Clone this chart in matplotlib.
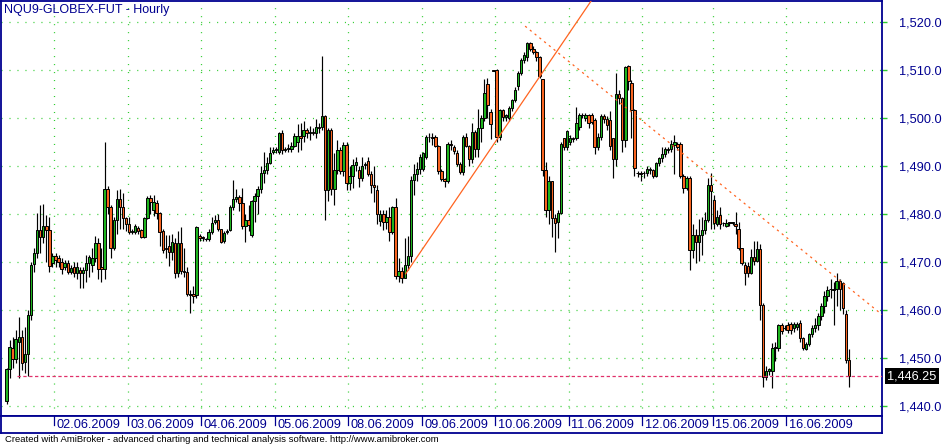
import numpy as np
import matplotlib
matplotlib.use("Agg")
import matplotlib.pyplot as plt
import matplotlib.transforms as mtransforms

plt.rcParams['font.family'] = ['Liberation Sans', 'DejaVu Sans']
plt.rcParams['lines.scale_dashes'] = False

# hourly bars, one row per trading day
day_labels = ["01.06.2009", "02.06.2009", "03.06.2009", "04.06.2009", "05.06.2009", "08.06.2009",
              "09.06.2009", "10.06.2009", "11.06.2009", "12.06.2009", "15.06.2009", "16.06.2009"]
bars_per_day = [16, 24, 24, 24, 24, 24, 24, 24, 24, 23, 24, 21]

opens = [
    1441.1, 1447.7, 1452.1, 1449.8, 1453.5, 1454.5, 1449.2, 1450.9, 1459.0, 1469.6, 1471.9, 1476.8, 1475.2, 1477.5, 1476.8, 1469.8,
    1471.3, 1470.8, 1470.1, 1469.1, 1469.8, 1468.0, 1469.1, 1467.8, 1468.3, 1467.7, 1468.4, 1469.8, 1469.5, 1471.0, 1474.0, 1469.0, 1468.7, 1485.3, 1481.6, 1472.9, 1478.9, 1483.2, 1481.6, 1479.2,
    1478.0, 1476.4, 1476.4, 1477.2, 1476.8, 1475.2, 1479.2, 1483.5, 1481.0, 1482.3, 1480.2, 1476.6, 1472.9, 1473.5, 1472.2, 1474.1, 1467.7, 1474.1, 1468.2, 1468.0, 1463.5, 1463.3, 1463.2, 1475.5,
    1475.2, 1474.8, 1474.8, 1476.3, 1478.5, 1478.9, 1476.9, 1474.5, 1476.4, 1476.8, 1481.6, 1483.2, 1483.6, 1482.3, 1477.6, 1478.9, 1475.7, 1482.7, 1483.8, 1485.2, 1488.6, 1489.3, 1490.7, 1493.0,
    1493.3, 1493.0, 1497.0, 1493.3, 1493.6, 1493.6, 1494.3, 1495.0, 1496.4, 1496.4, 1497.5, 1496.9, 1497.2, 1497.0, 1498.2, 1498.2, 1500.4, 1485.0, 1497.5, 1485.3, 1489.2, 1493.5, 1489.0, 1494.5,
    1486.6, 1488.0, 1490.3, 1489.3, 1487.6, 1490.3, 1491.1, 1488.5, 1486.2, 1485.0, 1478.7, 1480.1, 1478.5, 1479.4, 1476.4, 1481.6, 1467.2, 1468.1, 1466.7, 1469.5, 1471.4, 1487.1, 1488.4, 1489.4,
    1489.4, 1492.0, 1496.1, 1496.2, 1496.1, 1494.3, 1489.0, 1487.4, 1486.9, 1494.7, 1494.0, 1492.8, 1490.4, 1488.8, 1496.1, 1494.3, 1491.5, 1497.2, 1493.6, 1497.9, 1500.0, 1507.1, 1501.4, 1510.0,
    1510.0, 1496.1, 1501.8, 1500.2, 1500.0, 1502.1, 1503.9, 1506.7, 1509.5, 1512.2, 1512.7, 1515.7, 1514.5, 1513.8, 1512.7, 1508.1, 1489.3, 1480.9, 1486.9, 1479.2, 1478.5, 1480.2, 1495.8, 1494.0,
    1495.0, 1495.8, 1495.8, 1498.2, 1500.7, 1500.0, 1500.7, 1500.7, 1499.6, 1494.0, 1496.1, 1500.4, 1499.9, 1499.6, 1495.8, 1491.5, 1505.1, 1504.2, 1495.4, 1510.9, 1507.4, 1501.8, 1488.6, 1488.6,
    1488.6, 1488.6, 1489.2, 1489.3, 1488.0, 1490.7, 1491.7, 1492.6, 1493.5, 1493.6, 1494.4, 1494.7, 1494.7, 1487.9, 1485.5, 1487.6, 1472.6, 1475.7, 1474.3, 1475.7, 1476.8, 1478.9, 1486.2,
    1483.0, 1478.0, 1479.8, 1478.1, 1477.6, 1478.1, 1478.2, 1478.0, 1477.0, 1472.9, 1469.5, 1469.2, 1467.7, 1471.1, 1470.3, 1472.7, 1461.1, 1446.2, 1447.4, 1447.4, 1452.1, 1452.1, 1456.9, 1456.4,
    1457.0, 1457.1, 1456.3, 1456.5, 1457.3, 1454.3, 1452.0, 1453.0, 1455.0, 1456.3, 1457.0, 1458.8, 1460.9, 1463.0, 1464.4, 1464.3, 1464.4, 1466.2, 1465.6, 1459.3, 1449.6,
]
highs = [
    1448.0, 1453.8, 1454.5, 1456.0, 1458.7, 1456.0, 1456.5, 1460.0, 1470.0, 1473.0, 1480.2, 1482.0, 1482.2, 1479.9, 1479.5, 1472.0,
    1472.0, 1471.5, 1471.0, 1470.5, 1470.5, 1469.5, 1470.0, 1470.0, 1469.0, 1469.0, 1471.6, 1471.6, 1473.0, 1475.4, 1475.0, 1473.0, 1495.0, 1486.0, 1482.0, 1479.5, 1485.0, 1485.2, 1484.5, 1479.5,
    1479.5, 1477.0, 1478.0, 1477.5, 1477.0, 1479.5, 1483.8, 1484.0, 1484.0, 1483.0, 1480.5, 1477.0, 1475.6, 1475.6, 1476.0, 1475.0, 1476.6, 1477.3, 1473.0, 1469.0, 1464.3, 1465.0, 1477.5, 1476.0,
    1475.5, 1475.0, 1477.0, 1479.5, 1479.8, 1480.0, 1477.0, 1476.5, 1477.0, 1482.0, 1487.1, 1485.2, 1484.0, 1485.5, 1480.0, 1482.0, 1483.0, 1484.5, 1486.0, 1490.0, 1493.0, 1492.0, 1494.0, 1494.0,
    1494.0, 1497.2, 1497.5, 1494.0, 1494.6, 1495.0, 1497.0, 1498.9, 1499.0, 1499.5, 1498.0, 1498.5, 1498.0, 1499.8, 1499.0, 1512.9, 1500.6, 1498.0, 1498.0, 1492.8, 1495.5, 1494.0, 1495.0, 1495.0,
    1490.0, 1491.5, 1492.0, 1490.0, 1492.0, 1491.0, 1492.0, 1489.0, 1490.0, 1486.2, 1481.0, 1481.0, 1481.0, 1481.5, 1481.7, 1483.5, 1471.0, 1469.0, 1475.0, 1475.5, 1488.0, 1490.5, 1491.0, 1492.5,
    1493.0, 1496.5, 1497.0, 1497.0, 1496.5, 1494.5, 1489.5, 1487.5, 1495.0, 1495.5, 1494.5, 1493.5, 1491.0, 1496.5, 1497.0, 1494.5, 1499.0, 1497.5, 1502.0, 1500.7, 1508.1, 1508.5, 1502.0, 1510.1,
    1510.2, 1502.0, 1502.0, 1501.0, 1502.5, 1504.0, 1506.5, 1509.8, 1512.5, 1513.9, 1516.0, 1516.0, 1515.0, 1514.0, 1513.0, 1508.1, 1491.0, 1488.0, 1487.0, 1480.0, 1481.0, 1495.0, 1496.0, 1497.5,
    1496.5, 1496.2, 1502.3, 1501.2, 1501.2, 1501.2, 1501.0, 1501.2, 1500.0, 1497.0, 1501.0, 1501.0, 1500.5, 1501.5, 1496.0, 1509.5, 1506.0, 1504.5, 1511.0, 1511.2, 1508.0, 1502.0, 1489.0, 1489.0,
    1489.0, 1490.0, 1489.8, 1489.5, 1491.0, 1492.0, 1494.0, 1494.0, 1494.0, 1495.5, 1496.6, 1495.0, 1495.0, 1488.5, 1488.0, 1488.0, 1478.0, 1477.0, 1479.0, 1479.5, 1480.5, 1487.5, 1488.6,
    1484.0, 1481.0, 1481.5, 1478.5, 1479.0, 1478.5, 1478.5, 1480.5, 1478.5, 1473.0, 1470.0, 1470.0, 1472.8, 1474.5, 1474.5, 1473.8, 1461.5, 1448.5, 1448.0, 1453.2, 1453.5, 1457.2, 1457.3, 1457.0,
    1457.5, 1457.5, 1457.5, 1457.5, 1458.0, 1454.5, 1453.3, 1455.3, 1457.0, 1458.5, 1459.5, 1461.5, 1464.0, 1465.0, 1466.5, 1466.0, 1467.7, 1466.5, 1466.0, 1460.0, 1452.0,
]
lows = [
    1440.5, 1445.9, 1448.0, 1449.0, 1446.0, 1447.6, 1447.0, 1446.3, 1458.0, 1468.0, 1471.0, 1472.0, 1474.0, 1470.0, 1468.0, 1469.0,
    1469.0, 1469.0, 1467.5, 1468.5, 1467.5, 1467.5, 1467.0, 1466.6, 1464.6, 1464.6, 1466.0, 1467.0, 1468.0, 1470.0, 1466.5, 1466.0, 1466.5, 1480.0, 1471.0, 1472.5, 1476.0, 1477.0, 1477.0, 1476.5,
    1476.0, 1476.0, 1476.0, 1476.0, 1475.0, 1475.0, 1479.0, 1480.0, 1479.6, 1479.0, 1473.5, 1472.0, 1470.9, 1469.3, 1470.5, 1466.8, 1467.0, 1467.5, 1467.0, 1463.0, 1459.4, 1461.5, 1462.5, 1474.5,
    1474.5, 1474.5, 1474.5, 1476.0, 1478.0, 1476.5, 1474.0, 1474.0, 1476.0, 1476.5, 1481.0, 1482.5, 1480.6, 1477.0, 1474.2, 1476.5, 1475.2, 1478.5, 1480.0, 1484.5, 1486.5, 1488.5, 1490.5, 1492.5,
    1492.8, 1492.5, 1492.5, 1493.0, 1493.0, 1493.0, 1494.0, 1493.0, 1493.5, 1495.0, 1496.0, 1495.5, 1496.5, 1496.0, 1497.0, 1497.5, 1478.8, 1482.7, 1484.0, 1482.0, 1488.5, 1488.5, 1488.0, 1485.0,
    1485.0, 1485.5, 1489.0, 1485.6, 1487.0, 1489.5, 1488.0, 1484.5, 1482.6, 1478.0, 1477.5, 1476.7, 1477.0, 1474.4, 1476.0, 1466.5, 1466.0, 1465.6, 1467.6, 1468.5, 1470.0, 1484.0, 1487.0, 1488.5,
    1489.0, 1491.5, 1495.0, 1494.5, 1494.0, 1488.5, 1487.0, 1485.7, 1486.5, 1493.5, 1492.5, 1490.0, 1488.5, 1488.2, 1494.0, 1490.0, 1490.7, 1492.0, 1492.0, 1495.0, 1499.5, 1500.0, 1495.7, 1509.8,
    1495.0, 1495.5, 1499.5, 1499.5, 1499.5, 1501.5, 1503.5, 1506.0, 1509.0, 1511.5, 1512.0, 1514.0, 1513.5, 1512.0, 1508.5, 1488.0, 1479.5, 1478.0, 1475.2, 1472.2, 1475.0, 1480.0, 1493.5, 1493.5,
    1494.5, 1495.0, 1495.5, 1497.5, 1500.0, 1499.5, 1498.0, 1498.8, 1492.5, 1493.5, 1495.5, 1499.0, 1497.5, 1493.5, 1487.6, 1490.0, 1503.0, 1493.0, 1494.0, 1506.0, 1496.0, 1488.0, 1487.8, 1487.0,
    1487.6, 1488.0, 1488.5, 1487.5, 1487.7, 1490.0, 1491.0, 1492.0, 1492.8, 1493.0, 1488.3, 1493.5, 1487.5, 1484.5, 1485.0, 1468.4, 1471.0, 1469.8, 1470.3, 1471.5, 1476.0, 1478.5, 1477.0,
    1477.0, 1477.5, 1477.0, 1477.5, 1477.3, 1477.5, 1477.8, 1476.0, 1472.5, 1469.5, 1465.2, 1466.9, 1467.5, 1469.5, 1470.0, 1457.9, 1444.0, 1445.5, 1446.5, 1443.9, 1449.5, 1451.5, 1455.0, 1455.8,
    1455.3, 1455.0, 1455.5, 1456.0, 1453.5, 1451.8, 1451.8, 1452.5, 1454.5, 1455.5, 1456.0, 1458.0, 1459.5, 1462.0, 1462.5, 1456.9, 1461.0, 1460.0, 1459.3, 1449.0, 1444.1,
]
closes = [
    1447.7, 1452.3, 1449.8, 1454.0, 1454.5, 1449.0, 1450.9, 1459.0, 1469.4, 1471.9, 1476.8, 1475.2, 1477.5, 1476.8, 1469.3, 1471.3,
    1470.5, 1470.1, 1468.7, 1469.8, 1468.0, 1468.9, 1467.8, 1469.0, 1467.7, 1468.4, 1469.8, 1471.2, 1471.0, 1474.0, 1468.7, 1468.7, 1485.3, 1481.6, 1472.9, 1478.9, 1483.2, 1481.6, 1479.2, 1478.0,
    1476.4, 1476.5, 1477.5, 1476.6, 1475.2, 1479.2, 1483.5, 1482.6, 1482.6, 1480.2, 1476.4, 1472.6, 1472.8, 1472.2, 1474.3, 1467.7, 1474.1, 1468.2, 1468.0, 1463.5, 1463.2, 1463.0, 1477.3, 1475.0,
    1475.0, 1474.9, 1476.3, 1478.2, 1478.9, 1476.9, 1474.3, 1476.2, 1476.6, 1481.6, 1483.2, 1483.6, 1482.3, 1477.6, 1478.9, 1477.8, 1482.7, 1483.8, 1485.2, 1488.6, 1489.3, 1490.7, 1492.8, 1493.4,
    1493.6, 1497.0, 1493.3, 1493.6, 1493.8, 1494.3, 1496.4, 1496.4, 1496.0, 1497.5, 1496.9, 1497.2, 1497.0, 1498.2, 1498.0, 1500.4, 1485.0, 1497.5, 1485.3, 1489.2, 1493.5, 1489.0, 1494.5, 1486.6,
    1488.0, 1490.3, 1491.0, 1487.6, 1490.1, 1490.4, 1488.5, 1486.2, 1485.7, 1480.1, 1480.1, 1478.5, 1479.4, 1476.4, 1481.6, 1467.2, 1468.1, 1466.7, 1469.5, 1471.4, 1487.1, 1488.4, 1489.4, 1492.0,
    1492.8, 1496.1, 1496.2, 1495.8, 1494.3, 1489.0, 1487.4, 1487.0, 1494.7, 1494.4, 1493.1, 1490.4, 1488.8, 1496.1, 1494.3, 1491.5, 1497.2, 1493.6, 1497.9, 1500.0, 1505.3, 1502.8, 1498.9, 1509.9,
    1496.1, 1501.8, 1500.2, 1500.6, 1502.1, 1503.9, 1506.0, 1509.5, 1512.2, 1513.1, 1515.7, 1514.5, 1513.8, 1512.7, 1508.8, 1489.3, 1480.9, 1486.9, 1479.2, 1478.2, 1480.2, 1494.7, 1494.0, 1497.3,
    1495.8, 1495.6, 1499.1, 1500.7, 1500.6, 1500.7, 1499.0, 1499.3, 1494.0, 1496.1, 1500.4, 1499.9, 1498.6, 1494.3, 1491.5, 1505.1, 1504.2, 1495.4, 1510.7, 1507.8, 1501.8, 1489.7, 1488.6, 1488.5,
    1488.6, 1489.5, 1489.5, 1488.0, 1490.7, 1491.7, 1492.6, 1493.6, 1493.6, 1494.7, 1495.0, 1494.0, 1487.9, 1485.5, 1487.6, 1472.6, 1475.7, 1474.3, 1475.7, 1476.8, 1478.9, 1486.2, 1484.8,
    1478.2, 1479.5, 1478.0, 1478.2, 1478.1, 1478.3, 1478.3, 1477.5, 1472.9, 1469.8, 1467.8, 1467.8, 1471.2, 1470.3, 1472.7, 1461.1, 1446.2, 1447.4, 1447.8, 1452.1, 1452.4, 1456.9, 1455.7, 1456.4,
    1455.8, 1455.8, 1457.1, 1457.2, 1454.3, 1452.1, 1453.0, 1455.0, 1456.3, 1457.0, 1458.8, 1460.9, 1463.0, 1464.3, 1464.4, 1464.4, 1466.2, 1464.5, 1460.5, 1449.6, 1446.25,
]

# drawn study lines, anchors as (bar index, price)
up_line_bars = [130.3, 191.0]
up_line_prices = [1467.6, 1524.6]
down_line_bars = [169.3, 285.8]
down_line_prices = [1519.2, 1459.1]
last_price = 1446.25
last_line_start = 3.3

price_ticks = [1440, 1450, 1460, 1470, 1480, 1490, 1500, 1510, 1520]

NAVY = "#000090"
GRID = "#2ECC2E"
UP = "#1EB41E"
DOWN = "#F86420"
TREND = "#FF6420"
LAST = "#E0306A"

W, H = 943, 445


def draw_candles(ax, o, h, l, c):
    """Hourly candles: black wick, green/orange body with black outline."""
    x = np.arange(len(o))
    ax.vlines(x, l, h, color="black", linewidth=0.85, zorder=3)
    up = c >= o
    bottoms = np.minimum(o, c)
    heights = np.abs(c - o)
    colors = np.where(up, UP, DOWN)
    ax.bar(x, heights, width=0.8, bottom=bottoms, color=colors,
           edgecolor="black", linewidth=0.7, zorder=4)


def main():
    o = np.array(opens)
    h = np.array(highs)
    l = np.array(lows)
    c = np.array(closes)

    fig = plt.figure(figsize=(W / 100, H / 100), dpi=100)
    fig.patch.set_facecolor("white")

    ax = fig.add_axes([1 / W, (H - 416) / H, 881 / W, 415 / H])
    xlim = (-1.8, 285.8)
    ax.set_xlim(*xlim)
    ax.set_ylim(1437.98, 1524.44)

    starts = np.cumsum([0] + bars_per_day[:-1])
    day_lines = starts[1:] - 0.5

    # dotted green grid
    for p in price_ticks:
        ax.axhline(p, color=GRID, linewidth=0.9, dashes=(0.75, 5.0), zorder=1)
    for d in day_lines:
        ax.axvline(d, color=GRID, linewidth=0.9, dashes=(0.75, 5.0), zorder=1)

    draw_candles(ax, o, h, l, c)

    ax.plot(up_line_bars, up_line_prices, color=TREND, linewidth=0.9, zorder=5)
    ax.plot(down_line_bars, down_line_prices, color=TREND, linewidth=0.9,
            dashes=(1.6, 2.8), zorder=5)
    ax.plot([last_line_start, xlim[1]], [last_price, last_price], color=LAST,
            linewidth=0.9, dashes=(2.4, 1.8), zorder=5)

    ax.set_xticks([])
    ax.yaxis.tick_right()
    ax.set_yticks(price_ticks)
    ax.set_yticklabels([f"{p:,.1f}" for p in price_ticks])
    ax.tick_params(axis="y", length=3.5, width=1.0, color=GRID, labelcolor=NAVY,
                   labelsize=9.2, pad=9)
    for s in ax.spines.values():
        s.set_color(NAVY)
        s.set_linewidth(1.3)

    ax.text(3 / 881, 1 - 9 / 415, "NQU9-GLOBEX-FUT - Hourly", transform=ax.transAxes,
            ha="left", va="center", color=NAVY, fontsize=9, zorder=6)

    trans = mtransforms.blended_transform_factory(ax.transAxes, ax.transData)
    ax.text(1 + 5 / 881, last_price, f"{last_price:,.2f}", transform=trans,
            ha="left", va="center", color="white", fontsize=9.2, clip_on=False,
            bbox=dict(facecolor="black", edgecolor="none", pad=1.6), zorder=7)

    # date band under the chart
    axd = fig.add_axes([1 / W, (H - 433) / H, 881 / W, 17 / H])
    axd.set_xlim(*xlim)
    axd.set_ylim(0, 1)
    axd.set_xticks([])
    axd.set_yticks([])
    for s in axd.spines.values():
        s.set_color(NAVY)
        s.set_linewidth(1.3)
    for d, lab in zip(day_lines, day_labels[1:]):
        axd.plot([d, d], [0.45, 1.0], color=NAVY, linewidth=0.9)
        axd.annotate(lab, xy=(d, 0.48), xytext=(2.0, 0), textcoords="offset points",
                     ha="left", va="center", color=NAVY, fontsize=9.2)

    fig.text(5 / W, (H - 440) / H,
             "Created with AmiBroker - advanced charting and technical analysis software. "
             "http://www.amibroker.com",
             ha="left", va="center", color="black", fontsize=6.8)

    fig.savefig("out.png", dpi=100, facecolor="white")


if __name__ == "__main__":
    main()
